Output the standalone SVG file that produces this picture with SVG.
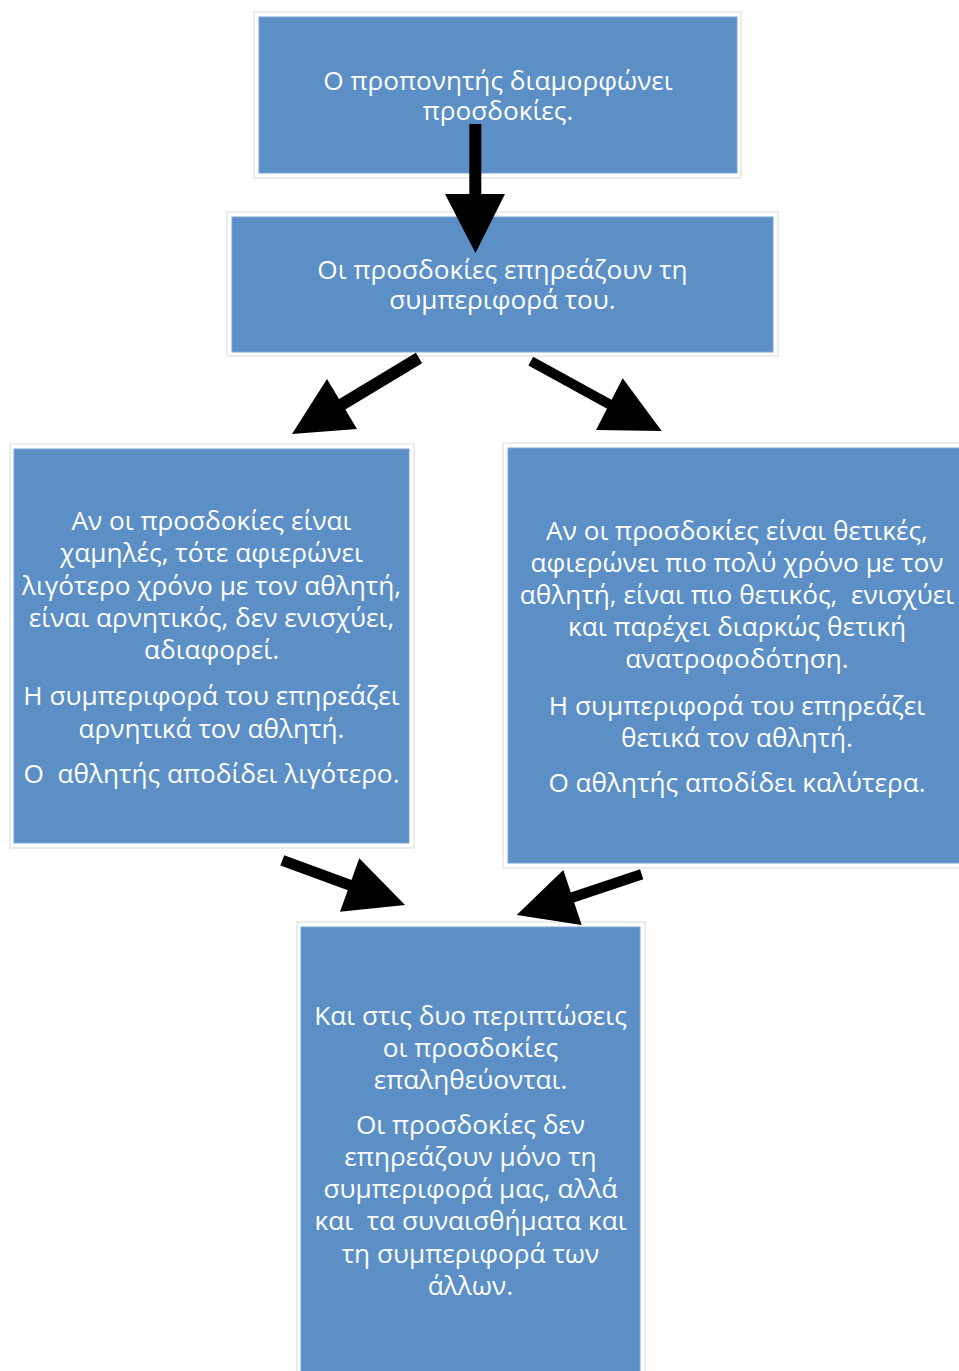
<svg xmlns="http://www.w3.org/2000/svg" width="959" height="1371" viewBox="0 0 959 1371">
<style>
.outer{fill:#ffffff;stroke:#d9d9d9;stroke-width:1}
.inner{fill:#5b8fc5;stroke:#7aa6d6;stroke-width:1}
.t{font-family:"Open Sans","Noto Sans","DejaVu Sans",sans-serif;font-size:26.2px;fill:#ffffff;text-anchor:middle;white-space:pre}
.shaft{stroke:#000;fill:none;stroke-linecap:butt}
.head{fill:#000}
</style>
<rect width="959" height="1371" fill="#ffffff"/>
<g id="node1">
<rect class="outer" x="254" y="12" width="487" height="166"/>
<rect class="inner" x="259" y="17" width="478" height="156"/>
<text class="t"><tspan x="498" y="90">Ο προπονητής διαμορφώνει</tspan><tspan x="498" y="120">προσδοκίες.</tspan></text>
</g>
<g id="node2">
<rect class="outer" x="227" y="212" width="551" height="144"/>
<rect class="inner" x="232" y="217" width="541" height="135"/>
<text class="t"><tspan x="502.5" y="279">Οι προσδοκίες επηρεάζουν τη</tspan><tspan x="502.5" y="309">συμπεριφορά του.</tspan></text>
</g>
<g id="node3">
<rect class="outer" x="10" y="444" width="404" height="404"/>
<rect class="inner" x="14" y="449" width="395" height="394"/>
<text class="t"><tspan x="211.5" y="530">Αν οι προσδοκίες είναι</tspan><tspan x="211.5" y="562">χαμηλές, τότε αφιερώνει</tspan><tspan x="211.5" y="594.5">λιγότερο χρόνο με τον αθλητή,</tspan><tspan x="211.5" y="627">είναι αρνητικός, δεν ενισχύει,</tspan><tspan x="211.5" y="659">αδιαφορεί.</tspan><tspan x="211.5" y="705">Η συμπεριφορά του επηρεάζει</tspan><tspan x="211.5" y="737.5">αρνητικά τον αθλητή.</tspan><tspan x="211.5" y="783">Ο  αθλητής αποδίδει λιγότερο.</tspan></text>
</g>
<g id="node4">
<rect class="outer" x="503" y="443" width="470" height="425"/>
<rect class="inner" x="508" y="448" width="470" height="415"/>
<text class="t"><tspan x="737" y="540">Αν οι προσδοκίες είναι θετικές,</tspan><tspan x="737" y="572">αφιερώνει πιο πολύ χρόνο με τον</tspan><tspan x="737" y="604">αθλητή, είναι πιο θετικός,  ενισχύει</tspan><tspan x="737" y="636">και παρέχει διαρκώς θετική</tspan><tspan x="737" y="668">ανατροφοδότηση.</tspan><tspan x="737" y="715">Η συμπεριφορά του επηρεάζει</tspan><tspan x="737" y="747">θετικά τον αθλητή.</tspan><tspan x="737" y="792">Ο αθλητής αποδίδει καλύτερα.</tspan></text>
</g>
<g id="node5">
<rect class="outer" x="297" y="922" width="348" height="460"/>
<rect class="inner" x="301" y="927" width="339" height="460"/>
<text class="t"><tspan x="470.5" y="1025">Και στις δυο περιπτώσεις</tspan><tspan x="470.5" y="1057">οι προσδοκίες</tspan><tspan x="470.5" y="1089">επαληθεύονται.</tspan><tspan x="470.5" y="1134">Οι προσδοκίες δεν</tspan><tspan x="470.5" y="1166">επηρεάζουν μόνο τη</tspan><tspan x="470.5" y="1198">συμπεριφορά μας, αλλά</tspan><tspan x="470.5" y="1230">και  τα συναισθήματα και</tspan><tspan x="470.5" y="1263">τη συμπεριφορά των</tspan><tspan x="470.5" y="1295">άλλων.</tspan></text>
</g>
<g id="connectors">
<line class="shaft" x1="475.3" y1="124" x2="475.3" y2="195" stroke-width="12"/>
<polygon class="head" points="445,194 505,194 475.5,253"/>
<line class="shaft" x1="419" y1="358" x2="341" y2="405" stroke-width="12"/>
<polygon class="head" points="327,379 357,429 292,434"/>
<line class="shaft" x1="530.8" y1="361.2" x2="610" y2="404.6" stroke-width="10"/>
<polygon class="head" points="622.7,378.3 596,430 661.7,431"/>
<line class="shaft" x1="282.3" y1="860.3" x2="350.5" y2="885.3" stroke-width="11"/>
<polygon class="head" points="359.3,858.3 340,911.7 405,905"/>
<line class="shaft" x1="641.7" y1="874.3" x2="571.5" y2="897.8" stroke-width="10.5"/>
<polygon class="head" points="563.3,870 581.7,925 516.7,915"/>
</g>
</svg>
